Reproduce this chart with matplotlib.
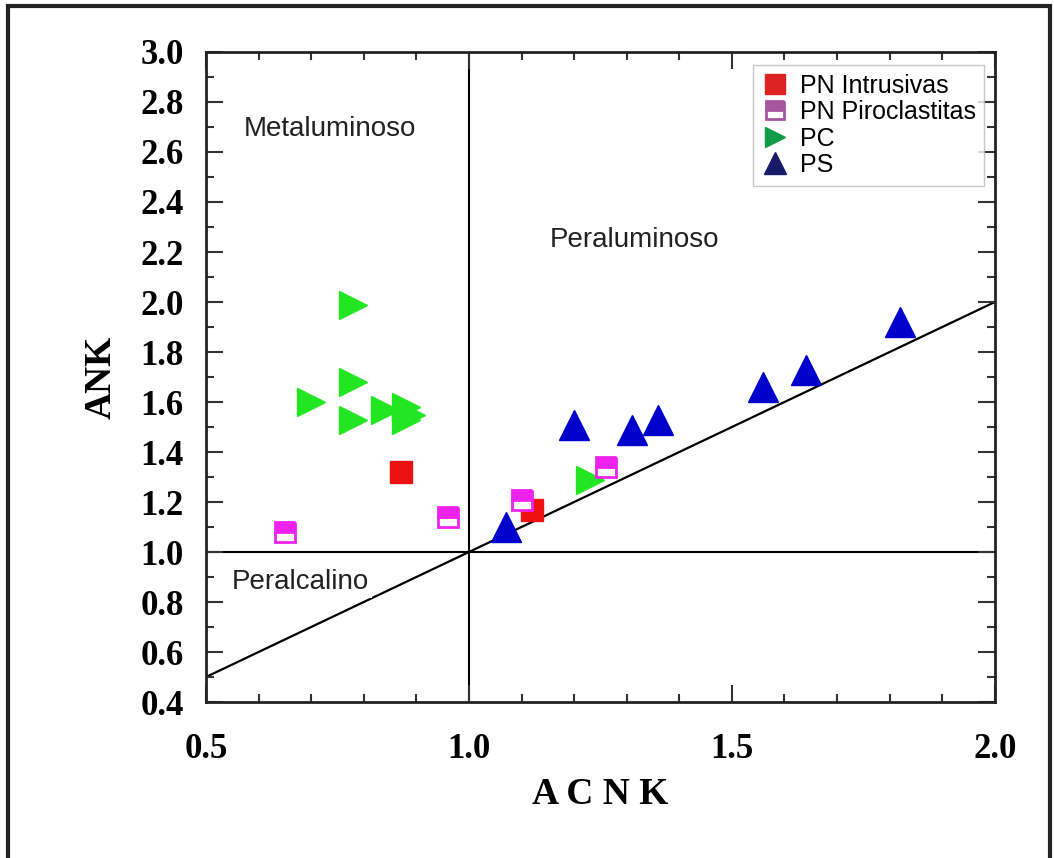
import matplotlib.pyplot as plt
from matplotlib.lines import Line2D
from matplotlib.patches import Rectangle
from matplotlib.ticker import MultipleLocator, FormatStrFormatter

# ACNK / ANK values for each group
pn_intr_x = [0.87, 1.12]
pn_intr_y = [1.32, 1.17]

pn_piro_x = [0.65, 0.96, 1.10, 1.26]
pn_piro_y = [1.08, 1.14, 1.21, 1.34]

pc_x = [0.78, 0.78, 0.70, 0.78, 0.84, 0.88, 0.89, 0.88, 1.23]
pc_y = [1.99, 1.68, 1.60, 1.53, 1.57, 1.58, 1.55, 1.53, 1.29]

ps_x = [1.07, 1.20, 1.31, 1.36, 1.56, 1.64, 1.82]
ps_y = [1.10, 1.51, 1.49, 1.53, 1.66, 1.73, 1.92]

labels = ["PN Intrusivas", "PN Piroclastitas", "PC", "PS"]
xticks = [0.5, 1.0, 1.5, 2.0]

serif = ["Liberation Serif", "DejaVu Serif"]
sans = ["Liberation Sans", "DejaVu Sans"]

fig = plt.figure(figsize=(10.54, 8.58), dpi=100)
ax = fig.add_axes([0.1954, 0.1818, 0.7485, 0.7576])

# field boundaries
ax.axvline(1.0, color="black", lw=1.5, zorder=1)
ax.axhline(1.0, color="black", lw=1.5, zorder=1)
ax.plot([0.5, 2.0], [0.5, 2.0], color="black", lw=1.6, zorder=1)

ax.plot(pc_x, pc_y, ">", ls="none", ms=20, color="#22e622", mec="#22e622", zorder=3)
ax.plot(pn_intr_x, pn_intr_y, "s", ls="none", ms=16, color="#ee1111", mec="#ee1111", zorder=4)
ax.plot(pn_piro_x, pn_piro_y, "s", ls="none", ms=14, mew=2, fillstyle="top",
        color="#ee22ee", mec="#ee22ee", markerfacecoloralt="white", zorder=4)
ax.plot(ps_x, ps_y, "^", ls="none", ms=21, color="#0000cc", mec="#0000cc", zorder=3)

ax.text(0.572, 2.69, "Metaluminoso", fontsize=20, family=sans, color="#222222", va="center")
ax.text(1.153, 2.25, "Peraluminoso", fontsize=20, family=sans, color="#222222", va="center")
ax.text(0.55, 0.88, "Peralcalino", fontsize=20, family=sans, color="#222222", va="center",
        bbox=dict(facecolor="white", edgecolor="none", pad=2), zorder=2)

ax.set_xlim(0.5, 2.0)
ax.set_ylim(0.4, 3.0)
ax.set_xticks(xticks)
ax.xaxis.set_minor_locator(MultipleLocator(0.1))
ax.yaxis.set_major_locator(MultipleLocator(0.2))
ax.yaxis.set_minor_locator(MultipleLocator(0.1))
ax.xaxis.set_major_formatter(FormatStrFormatter("%.1f"))
ax.yaxis.set_major_formatter(FormatStrFormatter("%.1f"))
ax.tick_params(which="both", direction="in", top=True, right=True, width=1.5, color="#333333")
ax.tick_params(which="major", length=12, labelsize=25)
ax.tick_params(axis="x", which="major", pad=22)
ax.tick_params(axis="y", which="major", pad=16)
ax.tick_params(which="minor", length=6)
for lab in ax.get_xticklabels() + ax.get_yticklabels():
    lab.set_family(serif)
    lab.set_fontweight("bold")
for s in ax.spines.values():
    s.set_linewidth(2)
    s.set_color("#222222")

ax.set_xlabel("A C N K", fontsize=27, fontweight="bold", family=serif, labelpad=8)
ax.set_ylabel("ANK", fontsize=27, fontweight="bold", family=serif, labelpad=16)

handles = [
    Line2D([], [], marker="s", ls="none", ms=14, color="#dd2222"),
    Line2D([], [], marker="s", ls="none", ms=13, mew=2, fillstyle="top", color="#a855a0",
           markerfacecoloralt="white"),
    Line2D([], [], marker=">", ls="none", ms=15, color="#139a46"),
    Line2D([], [], marker="^", ls="none", ms=16, color="#1a1a6a"),
]
leg = ax.legend(handles, labels, loc="upper right", bbox_to_anchor=(0.993, 0.988),
                prop={"family": sans, "size": 18}, frameon=True, fancybox=False,
                edgecolor="#bbbbbb", handlelength=1.0, handletextpad=0.5,
                labelspacing=0.1, borderpad=0.35, borderaxespad=0.2)
leg.get_frame().set_linewidth(1.0)

# outer frame round the whole figure
fig.patches.append(Rectangle((8 / 1054, -0.02), 1042 / 1054, 1.02 - 6 / 858,
                             transform=fig.transFigure, fill=False, lw=3,
                             edgecolor="#222222"))

fig.savefig("out.png", dpi=100)
